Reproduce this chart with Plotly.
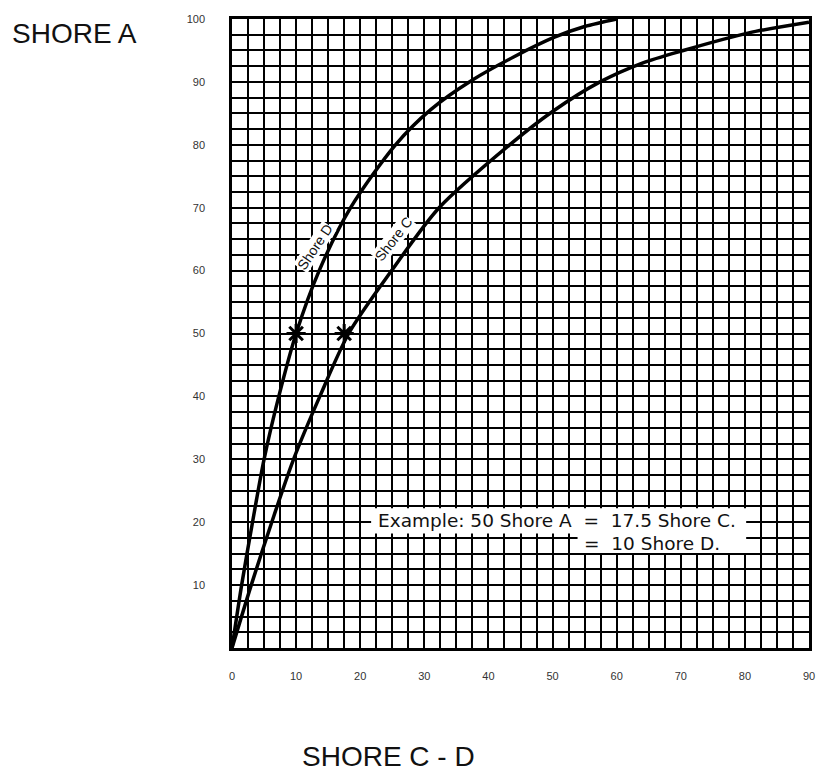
import plotly.graph_objects as go

# Shore D curve (x = Shore D, y = Shore A)
shore_d_x = [0, 1.5, 3.2, 5.0, 7.3, 10, 13.6, 18.5, 25.5, 31, 37.5, 44, 50.3, 55, 60]
shore_d_y = [0, 10, 20, 30, 40, 50, 60, 70, 80, 85.6, 90.3, 94, 97.1, 98.8, 100]

# Shore C curve (x = Shore C, y = Shore A)
shore_c_x = [0, 3.0, 6.2, 9.6, 13.7, 18.2, 24.9, 32.3, 43.3, 50, 57.4, 64, 70.4, 80.6, 90]
shore_c_y = [0, 10, 20, 30, 40, 50, 60, 70, 80, 85.3, 90, 93, 95, 97.8, 99.5]

example_x = [10, 17.5]
example_y = [50, 50]

x_ticks = [0, 10, 20, 30, 40, 50, 60, 70, 80, 90]
y_ticks = [10, 20, 30, 40, 50, 60, 70, 80, 90, 100]

FONT = "Liberation Sans, Arial, sans-serif"

fig = go.Figure()
fig.add_trace(go.Scatter(x=shore_d_x, y=shore_d_y, mode="lines",
                         line=dict(color="black", width=3.5, shape="spline", smoothing=0.8),
                         showlegend=False, hoverinfo="skip"))
fig.add_trace(go.Scatter(x=shore_c_x, y=shore_c_y, mode="lines",
                         line=dict(color="black", width=3.5, shape="spline", smoothing=0.8),
                         showlegend=False, hoverinfo="skip"))
fig.add_trace(go.Scatter(x=example_x, y=example_y, mode="markers",
                         marker=dict(symbol="asterisk", size=16,
                                     line=dict(color="black", width=3)),
                         showlegend=False, hoverinfo="skip"))

font_lbl = dict(family=FONT, size=14, color="#111")
fig.add_annotation(x=12.9, y=63.8, text="Shore D", showarrow=False, textangle=-56,
                   font=font_lbl, bgcolor="white", borderpad=0)
fig.add_annotation(x=25.2, y=65.0, text="Shore C", showarrow=False, textangle=-52,
                   font=font_lbl, bgcolor="white", borderpad=0)

# white boxes behind the example text
fig.add_shape(type="rect", x0=21.7, x1=80.2, y0=18.2, y1=22.2, xref="x", yref="y",
              fillcolor="white", line=dict(width=0), layer="above")
fig.add_shape(type="rect", x0=53.9, x1=80.2, y0=15.1, y1=18.3, xref="x", yref="y",
              fillcolor="white", line=dict(width=0), layer="above")

font_ex = dict(family="DejaVu Sans, sans-serif", size=18.5, color="#111")
fig.add_annotation(x=22.5, y=20.3, text="Example: 50 Shore A  =  17.5 Shore C.",
                   showarrow=False, xanchor="left", font=font_ex)
fig.add_annotation(x=54.6, y=16.6, text="=  10 Shore D.", showarrow=False,
                   xanchor="left", font=font_ex)

title_font = dict(family=FONT, size=28, color="#111")
fig.add_annotation(x=8, y=33, xref="x domain", yref="y domain", text="SHORE A",
                   showarrow=False, xanchor="left", yanchor="middle", font=title_font)
fig.add_annotation(x=390, y=756, xref="x domain", yref="y domain", text="SHORE C - D",
                   showarrow=False, xanchor="center", yanchor="middle", font=title_font)

tick_font = dict(family=FONT, size=11, color="#333")

L, R, T, B = 232, 4, 19, 124
W, H = 819, 772
PW, PH = W - L - R, H - T - B
# convert pixel positions of the two titles into domain fractions
fig.layout.annotations[-2].update(x=(8 - L) / PW, y=1 - (33 - T) / PH)
fig.layout.annotations[-1].update(x=(390 - L) / PW, y=1 - (756 - T) / PH)

fig.update_layout(
    width=W, height=H,
    margin=dict(l=L, r=R, t=T, b=B),
    paper_bgcolor="white", plot_bgcolor="white",
    xaxis=dict(range=[0, 90], tickvals=x_ticks, ticktext=[str(v) for v in x_ticks],
               showgrid=True, gridcolor="black", gridwidth=2,
               minor=dict(dtick=2.5, tick0=0, showgrid=True, gridcolor="black", gridwidth=2),
               showline=True, linecolor="black", linewidth=2.5, mirror=True,
               ticks="", ticklabelstandoff=16, tickfont=tick_font, zeroline=False),
    yaxis=dict(range=[0, 100], tickvals=y_ticks, ticktext=[str(v) for v in y_ticks],
               showgrid=True, gridcolor="black", gridwidth=2,
               minor=dict(dtick=2.5, tick0=0, showgrid=True, gridcolor="black", gridwidth=2),
               showline=True, linecolor="black", linewidth=2.5, mirror=True,
               ticks="", ticklabelstandoff=22, tickfont=tick_font, zeroline=False),
)

fig.write_html("out.html", config={"displayModeBar": False},
               post_script="document.body.style.margin='0px';"
                           "document.documentElement.style.overflow='hidden';")
